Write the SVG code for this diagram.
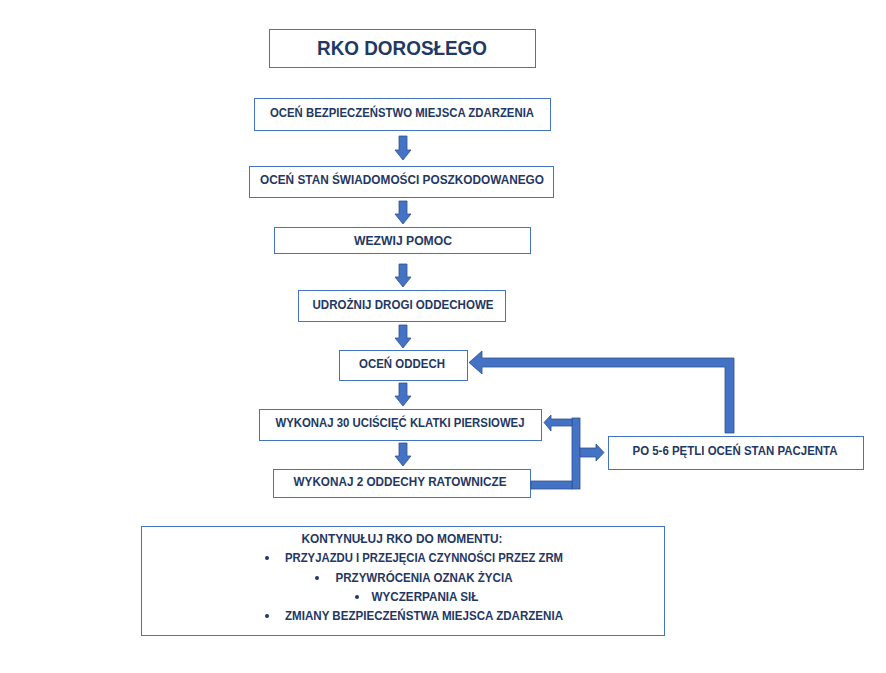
<svg xmlns="http://www.w3.org/2000/svg" width="886" height="673" viewBox="0 0 886 673">
<style>
.box{fill:#ffffff;stroke:#4472c4;stroke-width:1}
.t{font-family:"Liberation Sans",Arial,sans-serif;font-weight:bold;fill:#1f3864;font-size:12px;text-anchor:middle}
.title{font-size:20px}
.ar{fill:#4472c4;stroke:#2f528f;stroke-width:0.8}
</style>
<rect width="886" height="673" fill="#ffffff"/>
<g id="title"><rect class="box" x="269.5" y="29.5" width="266" height="38"/><text class="t title" x="402" y="55" textLength="170" lengthAdjust="spacingAndGlyphs">RKO DOROSŁEGO</text></g>
<g id="n1"><rect class="box" x="254.5" y="98.5" width="296" height="32"/><text class="t" x="402" y="117" textLength="264" lengthAdjust="spacingAndGlyphs">OCEŃ BEZPIECZEŃSTWO MIEJSCA ZDARZENIA</text></g>
<g id="n2"><rect class="box" x="249.5" y="166.5" width="304" height="31"/><text class="t" x="402" y="184" textLength="284" lengthAdjust="spacingAndGlyphs">OCEŃ STAN ŚWIADOMOŚCI POSZKODOWANEGO</text></g>
<g id="n3"><rect class="box" x="274.5" y="227.5" width="256" height="26"/><text class="t" x="403" y="245" textLength="98" lengthAdjust="spacingAndGlyphs">WEZWIJ POMOC</text></g>
<g id="n4"><rect class="box" x="298.5" y="290.5" width="207" height="31"/><text class="t" x="403" y="309" textLength="181" lengthAdjust="spacingAndGlyphs">UDROŻNIJ DROGI ODDECHOWE</text></g>
<g id="n5"><rect class="box" x="339.5" y="350.5" width="128" height="30"/><text class="t" x="402" y="368" textLength="86" lengthAdjust="spacingAndGlyphs">OCEŃ ODDECH</text></g>
<g id="n6"><rect class="box" x="259.5" y="409.5" width="282" height="31"/><text class="t" x="400" y="427" textLength="249" lengthAdjust="spacingAndGlyphs">WYKONAJ 30 UCIŚCIĘĆ KLATKI PIERSIOWEJ</text></g>
<g id="n7"><rect class="box" x="273.5" y="469.5" width="257" height="28"/><text class="t" x="400" y="486" textLength="213" lengthAdjust="spacingAndGlyphs">WYKONAJ 2 ODDECHY RATOWNICZE</text></g>
<g id="n8"><rect class="box" x="608.5" y="436.5" width="255" height="33"/><text class="t" x="735" y="455" textLength="205" lengthAdjust="spacingAndGlyphs">PO 5-6 PĘTLI OCEŃ STAN PACJENTA</text></g>
<g id="n9"><rect class="box" x="141.5" y="526.5" width="523" height="109"/>
<text class="t" x="402" y="543" textLength="201" lengthAdjust="spacingAndGlyphs">KONTYNUŁUJ RKO DO MOMENTU:</text>
<circle cx="267" cy="558" r="2" fill="#1f3864"/><text class="t" x="424" y="562" textLength="278" lengthAdjust="spacingAndGlyphs">PRZYJAZDU I PRZEJĘCIA CZYNNOŚCI PRZEZ ZRM</text>
<circle cx="317" cy="578" r="2" fill="#1f3864"/><text class="t" x="424" y="582" textLength="177" lengthAdjust="spacingAndGlyphs">PRZYWRÓCENIA OZNAK ŻYCIA</text>
<circle cx="357" cy="597" r="2" fill="#1f3864"/><text class="t" x="425" y="601" textLength="107" lengthAdjust="spacingAndGlyphs">WYCZERPANIA SIŁ</text>
<circle cx="267" cy="616" r="2" fill="#1f3864"/><text class="t" x="424" y="620" textLength="278" lengthAdjust="spacingAndGlyphs">ZMIANY BEZPIECZEŃSTWA MIEJSCA ZDARZENIA</text>
</g>
<g id="connectors">
<polygon class="ar" points="399,136 407,136 407,150 411,150 403,160 395,150 399,150"/>
<polygon class="ar" points="399,201 407,201 407,214 411,214 403,224 395,214 399,214"/>
<polygon class="ar" points="399,264 407,264 407,277 411,277 403,287 395,277 399,277"/>
<polygon class="ar" points="399,325 407,325 407,338 411,338 403,348 395,338 399,338"/>
<polygon class="ar" points="399,383 407,383 407,396 411,396 403,406 395,396 399,396"/>
<polygon class="ar" points="399,443 407,443 407,456 411,456 403,466 395,456 399,456"/>
<polygon class="ar" points="725,433 734,433 734,358 482,358 482,351 469,362.5 482,374 482,367 725,367"/>
<rect class="ar" x="572" y="418" width="8" height="71"/>
<polygon class="ar" points="572,419 551,419 551,415 544,422.5 551,431 551,426 572,426"/>
<polygon class="ar" points="580,448 596,448 596,444 604,452.5 596,461 596,457 580,457"/>
<rect class="ar" x="531" y="481" width="41" height="8"/>
</g>
</svg>
